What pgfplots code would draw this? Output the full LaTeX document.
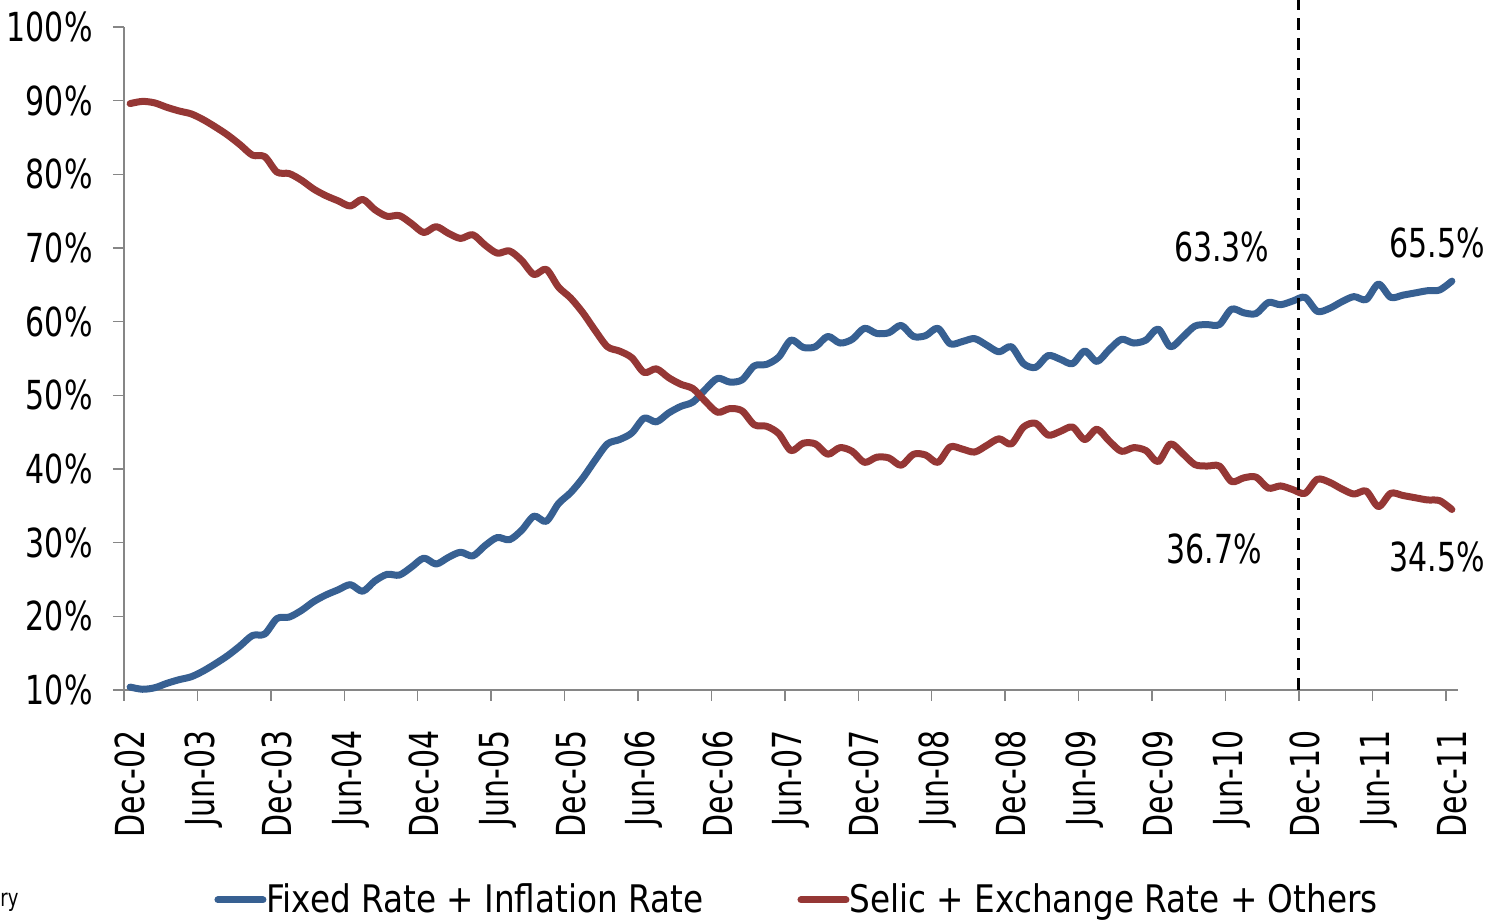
\documentclass[border=0pt]{standalone}
\usepackage{fontspec}
\setmainfont{DejaVu Sans}[FakeStretch=0.75]
\newfontfamily\legfont{DejaVu Sans}[FakeStretch=0.86]
\usepackage{pgfplots}
\pgfplotsset{compat=1.18}
\usepackage{pgfplotstable}
\definecolor{fixblue}{HTML}{376092}
\definecolor{selred}{HTML}{953735}
\definecolor{axgray}{HTML}{868686}

% month index (0 = Dec-02), share of debt in %
\pgfplotstableread{
m fixed selic
0 10.4 89.6
1 10.1 89.9
2 10.3 89.7
3 10.9 89.1
4 11.4 88.6
5 11.8 88.2
6 12.6 87.4
7 13.6 86.4
8 14.7 85.3
9 16.0 84.0
10 17.4 82.6
11 17.6 82.4
12 19.7 80.3
13 19.9 80.1
14 20.8 79.2
15 22.0 78.0
16 22.9 77.1
17 23.6 76.4
18 24.3 75.7
19 23.4 76.6
20 24.8 75.2
21 25.7 74.3
22 25.6 74.4
23 26.7 73.3
24 27.9 72.1
25 27.1 72.9
26 28.0 72.0
27 28.7 71.3
28 28.2 71.8
29 29.6 70.4
30 30.7 69.3
31 30.4 69.6
32 31.7 68.3
33 33.6 66.4
34 32.9 67.1
35 35.3 64.7
36 36.8 63.2
37 38.8 61.2
38 41.2 58.8
39 43.4 56.6
40 44.0 56.0
41 44.9 55.1
42 46.9 53.1
43 46.4 53.6
44 47.6 52.4
45 48.5 51.5
46 49.1 50.9
47 50.8 49.2
48 52.3 47.7
49 51.8 48.2
50 52.1 47.9
51 54.0 46.0
52 54.2 45.8
53 55.2 44.8
54 57.5 42.5
55 56.5 43.5
56 56.6 43.4
57 58.0 42.0
58 57.1 42.9
59 57.6 42.4
60 59.1 40.9
61 58.4 41.6
62 58.5 41.5
63 59.5 40.5
64 58.0 42.0
65 58.1 41.9
66 59.1 40.9
67 57.0 43.0
68 57.3 42.7
69 57.7 42.3
70 56.8 43.2
71 55.9 44.1
72 56.6 43.4
73 54.3 45.7
74 53.8 46.2
75 55.4 44.6
76 54.9 45.1
77 54.3 45.7
78 56.0 44.0
79 54.6 45.4
80 56.2 43.8
81 57.6 42.4
82 57.1 42.9
83 57.5 42.5
84 59.0 41.0
85 56.6 43.4
86 57.9 42.1
87 59.4 40.6
88 59.6 40.4
89 59.6 40.4
90 61.7 38.3
91 61.2 38.8
92 61.1 38.9
93 62.6 37.4
94 62.3 37.7
95 62.8 37.2
96 63.3 36.7
97 61.4 38.6
98 61.8 38.2
99 62.7 37.3
100 63.4 36.6
101 63.0 37.0
102 65.1 34.9
103 63.3 36.7
104 63.6 36.4
105 63.9 36.1
106 64.2 35.8
107 64.3 35.7
108 65.5 34.5
}\debtdata

\begin{document}
\begin{tikzpicture}
\useasboundingbox (-62pt,-115pt) rectangle (683pt,345pt);
\begin{axis}[
  scale only axis, width=667pt, height=331.5pt,
  xmin=-0.5, xmax=108.5, ymin=10, ymax=100,
  axis x line*=bottom, axis y line*=left,
  axis line style={draw=axgray, line width=0.75pt},
  tick align=outside, major tick length=5.5pt,
  every tick/.style={draw=axgray, line width=0.75pt},
  tick label style={font=\fontsize{20pt}{24pt}\selectfont},
  ytick={10,20,...,100},
  yticklabels={10\%,20\%,30\%,40\%,50\%,60\%,70\%,80\%,90\%,100\%},
  yticklabel style={inner sep=0pt, xshift=-10pt},
  xtick={-0.5,5.5,...,107.5},
  xticklabels={},
  extra x ticks={0,6,...,108},
  extra x tick labels={Dec-02,Jun-03,Dec-03,Jun-04,Dec-04,Jun-05,Dec-05,Jun-06,Dec-06,Jun-07,Dec-07,Jun-08,Dec-08,Jun-09,Dec-09,Jun-10,Dec-10,Jun-11,Dec-11},
  extra x tick style={major tick length=0pt,
    xticklabel style={inner sep=0pt, yshift=-20pt, rotate=90, anchor=east}},
  clip=false,
  legend columns=2,
  legend style={draw=none, fill=none, at={(0.0675,-0.3167)}, anchor=west,
    inner sep=0pt, font=\legfont\fontsize{19pt}{22pt}\selectfont,
    nodes={inner sep=0pt},
    /tikz/every even column/.append style={column sep=47pt}},
  legend image code/.code={\draw[#1, line width=3.5pt] (2.5pt,0pt) -- (25pt,0pt);},
]
\addplot[fixblue, line width=3.5pt, smooth, tension=0.5, line join=round, line cap=round] table[x=m, y=fixed] {\debtdata};
\addplot[selred, line width=3.5pt, smooth, tension=0.5, line join=round, line cap=round] table[x=m, y=selic] {\debtdata};
\legend{Fixed Rate + Inflation Rate, Selic + Exchange Rate + Others}
\draw[black, line width=1.5pt, dash pattern=on 6pt off 4pt] (axis cs:95.5,10) -- (axis cs:95.5,103.7);
\node[font=\fontsize{20pt}{24pt}\selectfont] at (axis cs:89.2,70.1) {63.3\%};
\node[font=\fontsize{20pt}{24pt}\selectfont] at (axis cs:106.8,70.7) {65.5\%};
\node[font=\fontsize{20pt}{24pt}\selectfont] at (axis cs:88.6,29.1) {36.7\%};
\node[font=\fontsize{20pt}{24pt}\selectfont] at (axis cs:106.8,28.05) {34.5\%};
\end{axis}
\node[anchor=west, inner sep=0pt, font=\fontsize{12pt}{14pt}\selectfont] at (-62pt,-106pt) {ry};
\end{tikzpicture}
\end{document}
